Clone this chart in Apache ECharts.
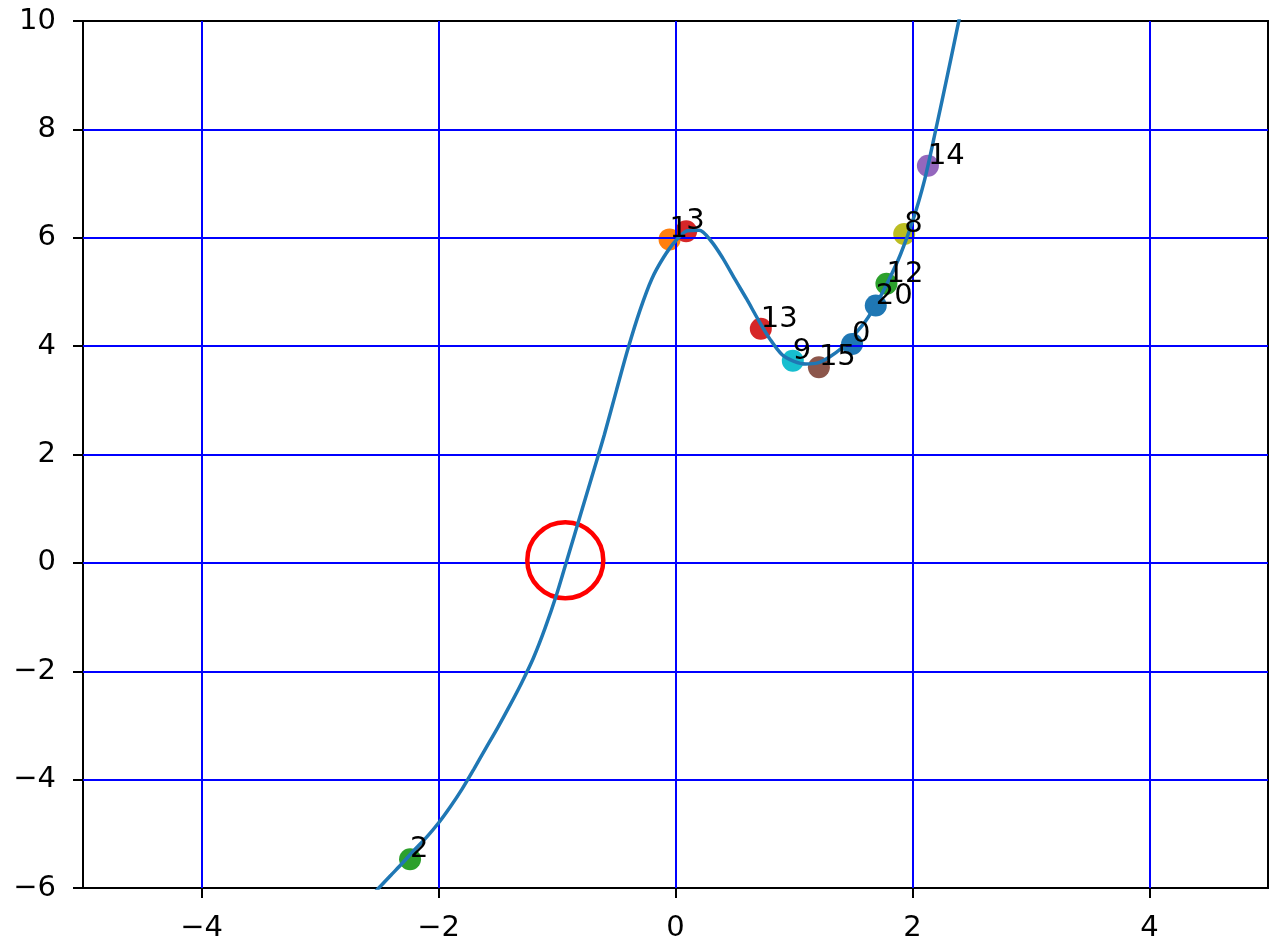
<!DOCTYPE html>
<html>
<head>
<meta charset="utf-8">
<script src="https://cdn.jsdelivr.net/npm/echarts@6/dist/echarts.min.js"></script>
<style>
  html, body { margin: 0; padding: 0; background: #fff; }
  #chart { width: 1270px; height: 943px; }
</style>
</head>
<body>
<div id="chart"></div>
<script>
// curve, about every 0.1 on x
const curveX = [-2.55, -2.5, -2.4, -2.3, -2.2, -2.1, -2.0, -1.9, -1.8, -1.7, -1.6, -1.5, -1.4, -1.3, -1.2, -1.1, -1.0,
  -0.9, -0.8, -0.7, -0.6, -0.5, -0.4, -0.3, -0.2, -0.1, 0.0, 0.1, 0.2, 0.3, 0.4, 0.5, 0.6, 0.7, 0.8, 0.9, 1.0,
  1.1, 1.2, 1.3, 1.4, 1.5, 1.6, 1.7, 1.8, 1.9, 2.0, 2.1, 2.2, 2.3, 2.4];
const curveY = [-6.11, -5.99, -5.76, -5.53, -5.29, -5.06, -4.8, -4.5, -4.17, -3.8, -3.42, -3.04, -2.64, -2.22, -1.76, -1.2, -0.56,
  0.17, 0.9, 1.63, 2.37, 3.17, 3.96, 4.66, 5.24, 5.64, 5.94, 6.13, 6.14, 5.94, 5.62, 5.24, 4.87, 4.48, 4.12, 3.84, 3.72,
  3.67, 3.69, 3.8, 3.96, 4.19, 4.45, 4.8, 5.22, 5.7, 6.3, 7.05, 8.03, 9.05, 10.1];

// labelled sample points
const pointLabels = ['0', '1', '2', '3', '8', '9', '12', '13', '14', '15', '20'];
const pointX = [1.49, -0.05, -2.24, 0.09, 1.93, 0.99, 1.78, 0.72, 2.13, 1.21, 1.69];
const pointY = [4.04, 5.97, -5.47, 6.12, 6.07, 3.73, 5.15, 4.32, 7.33, 3.61, 4.75];

// highlighted root
const circleX = [-0.93];
const circleY = [0.05];

const xTicks = [-4, -2, 0, 2, 4];
const yTicks = [-6, -4, -2, 0, 2, 4, 6, 8, 10];

const tab10 = ['#1f77b4', '#ff7f0e', '#2ca02c', '#d62728', '#9467bd',
  '#8c564b', '#e377c2', '#7f7f7f', '#bcbd22', '#17becf'];
const font = 'DejaVu Sans';
const fontSize = 29;
const minus = v => String(v).replace('-', '\u2212');

const chart = echarts.init(document.getElementById('chart'), null, { renderer: 'canvas' });

const pointData = pointLabels.map((name, i) => ({
  name,
  value: [pointX[i], pointY[i]],
  itemStyle: { color: tab10[Number(name) % 10] },
}));

const gridLine = { color: '#0000ff', width: 2, type: 'solid' };

chart.setOption({
  animation: false,
  grid: {
    left: 83, right: 2, top: 21, bottom: 53,
    show: true, borderColor: '#000', borderWidth: 2, backgroundColor: '#fff',
  },
  xAxis: {
    type: 'value',
    min: -5,
    max: 5,
    axisLine: { show: true, onZero: false, lineStyle: { color: '#000', width: 2 } },
    axisTick: { show: true, length: 10, customValues: xTicks, lineStyle: { color: '#000', width: 2 } },
    axisLabel: {
      customValues: xTicks,
      formatter: minus,
      margin: 26,
      color: '#000',
      fontFamily: font,
      fontSize,
    },
    splitLine: { show: false },
  },
  yAxis: {
    type: 'value',
    min: -6,
    max: 10,
    interval: 2,
    axisLine: { show: true, onZero: false, lineStyle: { color: '#000', width: 2 } },
    axisTick: { show: true, length: 10, lineStyle: { color: '#000', width: 2 } },
    axisLabel: {
      formatter: minus,
      margin: 27,
      color: '#000',
      fontFamily: font,
      fontSize,
    },
    splitLine: { show: false },
  },
  series: [
    {
      name: 'points',
      type: 'scatter',
      z: 1,
      symbolSize: 22,
      itemStyle: { opacity: 1 },
      data: pointData,
      markLine: {
        silent: true,
        z: 1.5,
        symbol: 'none',
        animation: false,
        label: { show: false },
        lineStyle: gridLine,
        emphasis: { disabled: true },
        data: [
          ...xTicks.map(v => ({ xAxis: v })),
          ...yTicks.filter(v => v > -6 && v < 10).map(v => ({ yAxis: v })),
        ],
      },
    },
    {
      name: 'root',
      type: 'scatter',
      z: 2,
      symbol: 'circle',
      symbolSize: 76,
      data: circleX.map((x, i) => [x, circleY[i]]),
      itemStyle: { color: 'rgba(0,0,0,0)', borderColor: '#ff0000', borderWidth: 4.5, opacity: 1 },
    },
    {
      name: 'curve',
      type: 'line',
      z: 3,
      smooth: 0.3,
      showSymbol: false,
      data: curveX.map((x, i) => [x, curveY[i]]),
      lineStyle: { color: '#1f77b4', width: 3.5 },
    },
    {
      name: 'labels',
      type: 'scatter',
      z: 4,
      symbolSize: 2,
      itemStyle: { color: 'rgba(0,0,0,0)', opacity: 1 },
      data: pointData.map(d => ({ name: d.name, value: d.value })),
      label: {
        show: true,
        formatter: '{b}',
        position: [1, 6],
        align: 'left',
        verticalAlign: 'bottom',
        color: '#000',
        opacity: 1,
        fontFamily: font,
        fontSize,
        lineHeight: fontSize,
      },
    },
  ],
});
</script>
</body>
</html>
